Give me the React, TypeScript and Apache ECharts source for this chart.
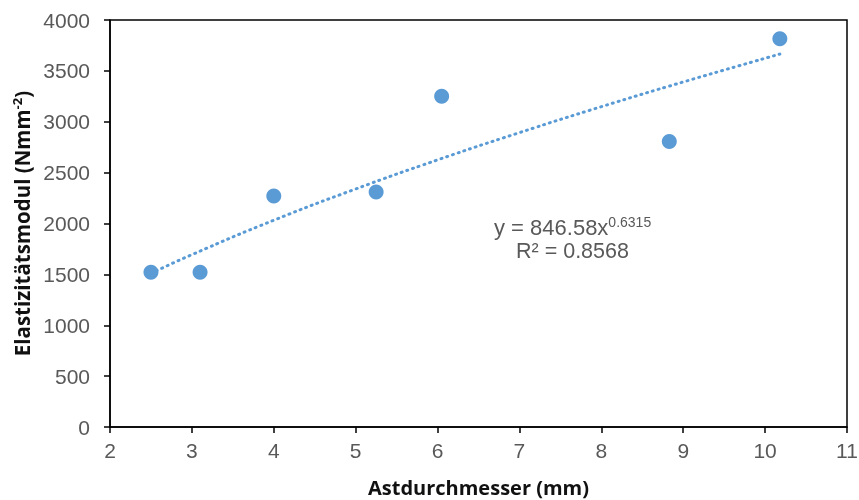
import React, { useEffect, useRef } from "react";
import * as echarts from "echarts";

const diameters = [2.5, 3.1, 4.0, 5.25, 6.05, 8.83, 10.18];
const moduli = [1520, 1520, 2270, 2310, 3250, 2805, 3815];
const trendX = [2.5, 3, 4, 5, 6, 7, 8, 9, 10.18];
const trendY = [1510, 1694, 2032, 2339, 2625, 2893, 3148, 3391, 3665];
const equationText = "846.58x";
const equationExp = "0.6315";
const r2Text = "R² = 0.8568";

export default function App() {
  const ref = useRef<HTMLDivElement>(null);
  useEffect(() => {
    if (!ref.current) return;
    const chart = echarts.init(ref.current, null, { renderer: "svg" });
    const gray = "#595959";
    const labelFont = 21;
    chart.setOption({
      animation: false,
      grid: {
        left: 110,
        right: 12,
        top: 20,
        bottom: 73,
        show: true,
        borderColor: "#000",
        borderWidth: 1.5,
        containLabel: false,
        outerBoundsMode: "none",
      },
      xAxis: {
        type: "value",
        min: 2,
        max: 11,
        interval: 1,
        name: "Astdurchmesser (mm)",
        nameLocation: "middle",
        nameGap: 50,
        nameTextStyle: { fontFamily: "Open Sans", fontWeight: "bold", fontSize: 20, color: "#111", lineHeight: 20 },
        axisLine: { show: true, lineStyle: { color: "#000", width: 1.5 } },
        axisTick: { show: true, length: 6, lineStyle: { color: "#000", width: 1.5 } },
        axisLabel: { color: gray, fontSize: labelFont, fontFamily: "Liberation Sans", margin: 13, formatter: (v: number) => String(v) },
        splitLine: { show: false },
      },
      yAxis: {
        type: "value",
        min: 0,
        max: 4000,
        interval: 500,
        name: "{t|Elastizitätsmodul (Nmm}{s|-2}{t|)}",
        nameLocation: "middle",
        nameGap: 76,
        nameTextStyle: {
          rich: {
            t: { fontFamily: "Open Sans", fontWeight: "bold", fontSize: 20.5, color: "#111" },
            s: { fontFamily: "Open Sans", fontWeight: "bold", fontSize: 13, color: "#111", verticalAlign: "top", padding: [0, 0, 9, 0] },
          },
        },
        axisLine: { show: true, lineStyle: { color: "#000", width: 1.5 } },
        axisTick: { show: true, length: 6, lineStyle: { color: "#000", width: 1.5 } },
        axisLabel: { color: gray, fontSize: labelFont, fontFamily: "Liberation Sans", margin: 20, formatter: (v: number) => String(v) },
        splitLine: { show: false },
      },
      series: [
        {
          type: "line",
          data: trendX.map((x, i) => [x, trendY[i]]),
          smooth: true,
          symbol: "none",
          lineStyle: { color: "#5b9bd5", width: 3, type: [1, 5], cap: "round" },
          z: 1,
        },
        {
          type: "scatter",
          data: diameters.map((x, i) => [x, moduli[i]]),
          symbolSize: 15,
          itemStyle: { color: "#5b9bd5", opacity: 1 },
          z: 2,
        },
      ],
      graphic: [
        {
          type: "text",
          x: 494,
          y: 227,
          style: {
            text: "{a|y = " + equationText + "}{e|" + equationExp + "}",
            verticalAlign: "middle",
            rich: {
              a: { fontFamily: "Liberation Sans", fontSize: 22, fill: gray },
              e: { fontFamily: "Liberation Sans", fontSize: 14, fill: gray, verticalAlign: "top", padding: [0, 0, 10, 0] },
            },
          },
        },
        {
          type: "text",
          x: 516,
          y: 251,
          style: { text: r2Text, fontFamily: "Liberation Sans", fontSize: 21.5, fill: gray, verticalAlign: "middle" },
        },
      ],
    });
    return () => chart.dispose();
  }, []);
  return <div ref={ref} style={{ position: "fixed", left: 0, top: 0, width: 859, height: 500 }} />;
}
